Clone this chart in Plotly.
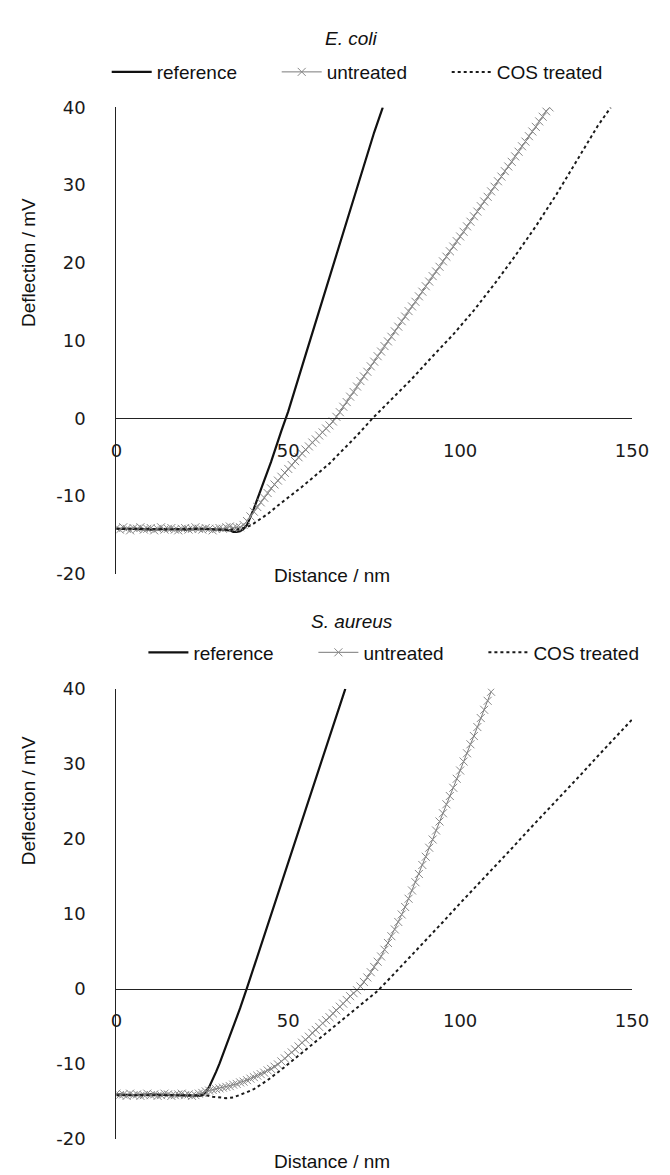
import plotly.graph_objects as go

# ---------------- data ----------------
# E. coli
ecoli_ref_x = [0, 5, 10, 15, 20, 25, 30, 33, 34, 35, 36, 37, 38, 40, 42, 45, 48, 50, 55, 60, 65, 70, 75, 77.5]
ecoli_ref_y = [-14.2, -14.2, -14.3, -14.2, -14.3, -14.2, -14.3, -14.4, -14.6, -14.6, -14.5, -14.2, -13.7, -11.6,
               -9.2, -5.6, -1.6, 0.9, 8.1, 15.3, 22.5, 29.6, 36.8, 40.0]

ecoli_unt_x = [0, 1, 2, 3, 4, 5, 6, 7, 8, 9, 10, 11, 12, 13, 14, 15, 16, 17, 18, 19,
               20, 21, 22, 23, 24, 25, 26, 27, 28, 29, 30, 31, 32, 33, 34, 35, 36, 37, 38, 39,
               40, 41, 42, 43, 44, 45, 46, 47, 48, 49, 50, 51, 52, 53, 54, 55, 56, 57, 58, 59,
               60, 61, 62, 63, 64, 65, 66, 67, 68, 69, 70, 71, 72, 73, 74, 75, 76, 77, 78, 79,
               80, 81, 82, 83, 84, 85, 86, 87, 88, 89, 90, 91, 92, 93, 94, 95, 96, 97, 98, 99,
               100, 101, 102, 103, 104, 105, 106, 107, 108, 109, 110, 111, 112, 113, 114, 115,
               116, 117, 118, 119, 120, 121, 122, 123, 124, 125, 126]
ecoli_unt_y = [-14.1, -14.3, -14.0, -14.2, -14.4, -14.1, -14.2, -14.0, -14.3, -14.2,
               -14.1, -14.4, -14.2, -14.0, -14.3, -14.2, -14.1, -14.3, -14.4, -14.2,
               -14.1, -14.3, -14.2, -14.0, -14.2, -14.3, -14.1, -14.2, -14.4, -14.2,
               -14.1, -14.2, -14.0, -13.9, -14.1, -14.0, -14.0, -13.7, -13.2, -12.6,
               -12.0, -11.4, -10.8, -10.2, -9.6, -9.0, -8.5, -8.0, -7.5, -7.0,
               -6.5, -6.0, -5.5, -5.0, -4.5, -4.0, -3.6, -3.1, -2.7, -2.2,
               -1.8, -1.3, -0.9, -0.4, 0.2, 0.8, 1.5, 2.1, 2.8, 3.4,
               4.1, 4.8, 5.4, 6.0, 6.7, 7.3, 8.0, 8.6, 9.3, 9.9,
               10.5, 11.2, 11.8, 12.5, 13.1, 13.8, 14.4, 15.0, 15.7, 16.3,
               17.0, 17.6, 18.3, 18.9, 19.5, 20.2, 20.8, 21.5, 22.1, 22.8,
               23.4, 24.0, 24.7, 25.3, 26.0, 26.6, 27.3, 27.9, 28.5, 29.2,
               29.8, 30.5, 31.1, 31.8, 32.4, 33.0, 33.7, 34.3, 35.0, 35.6,
               36.3, 36.9, 37.5, 38.2, 38.8, 39.5, 40.0]

ecoli_cos_x = [0, 5, 10, 15, 20, 25, 30, 35, 36, 38, 40, 42, 44, 47, 50, 54, 58, 62, 66, 70, 74.5,
               80, 86, 92, 98, 104, 110, 116, 122, 128, 134, 140, 143.8]
ecoli_cos_y = [-14.2, -14.2, -14.2, -14.3, -14.2, -14.2, -14.3, -14.3, -14.2, -14.0, -13.5, -12.9, -12.3,
               -11.2, -10.2, -8.8, -7.3, -5.8, -4.0, -2.2, 0.0,
               2.4, 5.1, 8.0, 10.8, 13.9, 17.3, 20.9, 24.7, 28.8, 33.2, 37.6, 40.0]

# S. aureus
saur_ref_x = [0, 5, 10, 15, 20, 23, 24, 25, 26, 27, 28, 29, 30, 32, 34, 36, 38, 40, 45, 50, 55, 60, 65, 66.6]
saur_ref_y = [-14.1, -14.2, -14.1, -14.2, -14.2, -14.3, -14.3, -14.2, -13.8, -13.1, -12.2, -11.1, -10.0,
              -7.6, -5.1, -2.6, 0.1, 2.9, 9.9, 16.8, 23.8, 30.7, 37.7, 40.0]

saur_unt_x = [0, 1, 2, 3, 4, 5, 6, 7, 8, 9, 10, 11, 12, 13, 14, 15, 16, 17, 18, 19,
              20, 21, 22, 23, 24, 25, 26, 27, 28, 29, 30, 31, 32, 33, 34, 35, 36, 37, 38, 39,
              40, 41, 42, 43, 44, 45, 46, 47, 48, 49, 50, 51, 52, 53, 54, 55, 56, 57, 58, 59,
              60, 61, 62, 63, 64, 65, 66, 67, 68, 69, 70, 71, 72, 73, 74, 75, 76, 77, 78, 79,
              80, 81, 82, 83, 84, 85, 86, 87, 88, 89, 90, 91, 92, 93, 94, 95, 96, 97, 98, 99,
              100, 101, 102, 103, 104, 105, 106, 107, 108, 109]
saur_unt_y = [-14.0, -14.2, -14.1, -14.3, -14.0, -14.2, -14.1, -14.3, -14.2, -14.0,
              -14.2, -14.1, -14.3, -14.2, -14.0, -14.1, -14.3, -14.2, -14.1, -14.0,
              -14.2, -14.1, -14.3, -14.2, -14.0, -13.9, -13.7, -13.6, -13.5, -13.4,
              -13.3, -13.2, -13.1, -13.0, -12.8, -12.7, -12.5, -12.4, -12.2, -12.0,
              -11.8, -11.6, -11.4, -11.2, -10.9, -10.7, -10.4, -10.1, -9.7, -9.3,
              -8.9, -8.5, -8.1, -7.7, -7.2, -6.8, -6.4, -5.9, -5.5, -5.1,
              -4.6, -4.2, -3.8, -3.3, -2.9, -2.4, -2.0, -1.5, -1.0, -0.6,
              -0.2, 0.3, 0.9, 1.5, 2.2, 2.9, 3.6, 4.3, 5.2, 6.1,
              7.0, 7.9, 8.9, 9.9, 10.9, 12.0, 13.1, 14.2, 15.3, 16.5,
              17.6, 18.8, 19.9, 21.1, 22.3, 23.4, 24.6, 25.7, 26.8, 28.0,
              29.1, 30.3, 31.4, 32.6, 33.7, 34.9, 36.1, 37.2, 38.4, 39.6]

saur_cos_x = [0, 5, 10, 15, 20, 25, 26, 28, 30, 32, 34, 36, 38, 40, 44, 48, 52, 56, 60, 64, 68, 72, 76,
              80, 85, 90, 95, 100, 105, 110, 115, 120, 125, 130, 135, 140, 145, 150]
saur_cos_y = [-14.2, -14.2, -14.1, -14.2, -14.2, -14.2, -14.2, -14.4, -14.5, -14.6, -14.5, -14.2, -13.8,
              -13.4, -12.2, -10.8, -9.3, -7.8, -6.3, -4.8, -3.3, -1.8, -0.3,
              1.6, 4.0, 6.5, 8.9, 11.4, 13.8, 16.3, 18.7, 21.2, 23.6, 26.1, 28.5, 31.0, 33.4, 35.9]

series_names = ["reference", "untreated", "COS treated"]
panel_titles = ["E. coli", "S. aureus"]
x_ticks = [0, 50, 100, 150]
x_ticktext = ["0", "50", "100", "150"]
y_ticks = [-20, -10, 0, 10, 20, 30, 40]
y_ticktext = ["-20", "-10", "0", "10", "20", "30", "40"]
x_range = [0, 150]
y_range = [-20, 40]
x_title = "Distance / nm"
y_title = "Deflection / mV"

# ---------------- layout helpers ----------------
W, H = 670, 1175
TXT = "Liberation Sans, Arial, sans-serif"
NUM = "DejaVu Sans, Verdana, sans-serif"


def fx(p):
    return p / W


def fy(p):
    return 1 - p / H


x_dom = [fx(106), fx(640)]
top_dom = [fy(565), fy(90)]
bot_dom = [fy(1140), fy(682)]


def zero_pos(dom):
    return dom[0] + (0 - y_range[0]) / (y_range[1] - y_range[0]) * (dom[1] - dom[0])


fig = go.Figure()

ref_style = dict(color="#111111", width=2.2)
unt_line = dict(color="#7a7a7a", width=1)
unt_marker = dict(symbol="x-thin", size=8, line=dict(width=1, color="#888888"))
cos_style = dict(color="#1a1a1a", width=2, dash="dot")

panels = [
    ("x", "y", "legend", ecoli_ref_x, ecoli_ref_y, ecoli_unt_x, ecoli_unt_y, ecoli_cos_x, ecoli_cos_y),
    ("x2", "y2", "legend2", saur_ref_x, saur_ref_y, saur_unt_x, saur_unt_y, saur_cos_x, saur_cos_y),
]
for xa, ya, lg, rx, ry, ux, uy, cx, cy in panels:
    fig.add_trace(go.Scatter(x=rx, y=ry, mode="lines", name=series_names[0], line=ref_style,
                             xaxis=xa, yaxis=ya, legend=lg))
    fig.add_trace(go.Scatter(x=ux, y=uy, mode="lines+markers", name=series_names[1], line=unt_line,
                             marker=unt_marker, xaxis=xa, yaxis=ya, legend=lg))
    fig.add_trace(go.Scatter(x=cx, y=cy, mode="lines", name=series_names[2], line=cos_style,
                             xaxis=xa, yaxis=ya, legend=lg))

xcommon = dict(range=x_range, tickvals=x_ticks, ticktext=x_ticktext, showgrid=False, zeroline=False,
               showline=True, linecolor="#222222", linewidth=1.3, ticks="", anchor="free",
               tickfont=dict(family=NUM, size=18, color="#1a1a1a"), ticklabelstandoff=16,
               domain=x_dom)
ycommon = dict(range=y_range, tickvals=y_ticks, ticktext=y_ticktext, showgrid=False, zeroline=False,
               showline=True, linecolor="#222222", linewidth=1.3, ticks="",
               tickfont=dict(family=NUM, size=18, color="#1a1a1a"), ticklabelstandoff=26)

legend_common = dict(orientation="h", xanchor="left", yanchor="middle",
                     font=dict(family=TXT, size=19, color="#111111"), entrywidth=115,
                     entrywidthmode="pixels", bgcolor="rgba(0,0,0,0)", itemwidth=40)

fig.update_layout(
    width=W, height=H,
    margin=dict(l=0, r=0, t=0, b=0),
    paper_bgcolor="white", plot_bgcolor="white",
    xaxis=dict(**xcommon, position=zero_pos(top_dom)),
    yaxis=dict(**ycommon, domain=top_dom, anchor="x"),
    xaxis2=dict(**xcommon, position=zero_pos(bot_dom)),
    yaxis2=dict(**ycommon, domain=bot_dom, anchor="x2"),
    legend=dict(**legend_common, x=fx(96), y=fy(54)),
    legend2=dict(**legend_common, x=fx(134), y=fy(645)),
    showlegend=True,
)

ann = []
for title, ypix in [(panel_titles[0], 20), (panel_titles[1], 613)]:
    ann.append(dict(text="<i>" + title + "</i>", x=fx(350), y=fy(ypix), xref="paper", yref="paper",
                    showarrow=False, font=dict(family=TXT, size=19, color="#111111"),
                    xanchor="center", yanchor="middle"))
for ypix in [567, 1163]:
    ann.append(dict(text=x_title, x=fx(329), y=fy(ypix), xref="paper", yref="paper",
                    showarrow=False, font=dict(family=TXT, size=19, color="#111111"),
                    xanchor="center", yanchor="middle"))
for ypix in [248, 796]:
    ann.append(dict(text=y_title, x=fx(15), y=fy(ypix), xref="paper", yref="paper", textangle=-90,
                    showarrow=False, font=dict(family=TXT, size=19, color="#111111"),
                    xanchor="center", yanchor="middle"))
fig.update_layout(annotations=ann)

fig.write_html("out.html")
